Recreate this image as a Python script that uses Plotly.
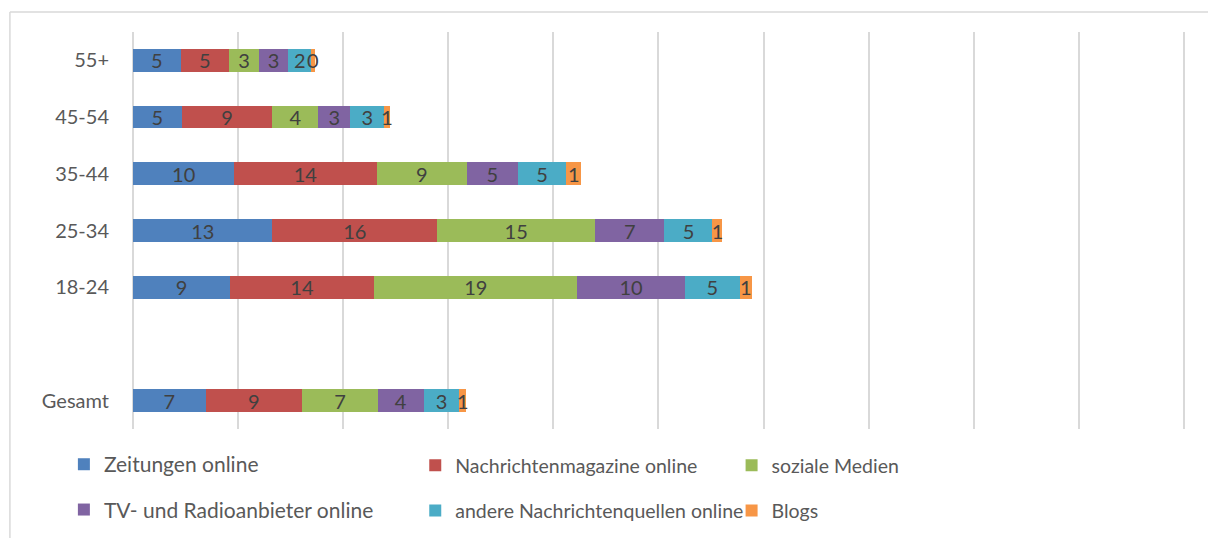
import plotly.graph_objects as go

categories = ["55+", "45-54", "35-44", "25-34", "18-24", " ", "Gesamt"]
series_names = ["Zeitungen online", "Nachrichtenmagazine online", "soziale Medien",
                "TV- und Radioanbieter online", "andere Nachrichtenquellen online", "Blogs"]
zeitungen = [4.52, 4.63, 9.65, 13.27, 9.24, None, 6.92]
nachrichtenmagazine = [4.63, 8.63, 13.52, 15.68, 13.71, None, 9.17]
soziale_medien = [2.83, 4.38, 8.63, 15.02, 19.33, None, 7.21]
tv_radio = [2.79, 3.05, 4.79, 6.60, 10.22, None, 4.35]
andere = [2.19, 3.21, 4.64, 4.57, 5.24, None, 3.40]
blogs = [0.32, 0.55, 1.43, 0.95, 1.14, None, 0.67]

series_values = [zeitungen, nachrichtenmagazine, soziale_medien, tv_radio, andere, blogs]
colors = ["#4F81BD", "#C0504D", "#9BBB59", "#8064A2", "#4BACC6", "#F79646"]
legend_ids = ["legend", "legend2", "legend3", "legend", "legend2", "legend3"]

FONT = "Lato"
fig = go.Figure()
for name, vals, col, lg in zip(series_names, series_values, colors, legend_ids):
    fig.add_trace(go.Bar(
        y=categories, x=vals, name=name, orientation="h",
        marker=dict(color=col, line=dict(width=0)),
        texttemplate="%{x:.0f}", textposition="inside", insidetextanchor="middle",
        textangle=0,
        textfont=dict(family=FONT, size=20, color="#404040"),
        legend=lg, legendgroup=name,
    ))

def legend_cfg(x, y, size, gap):
    return dict(orientation="v", xanchor="left", yanchor="top", x=x, y=y,
                bgcolor="rgba(0,0,0,0)", tracegroupgap=gap,
                font=dict(family=FONT, size=size, color="#595959"))

fig.update_layout(
    width=1208, height=538,
    margin=dict(l=133, r=23, t=32, b=109, autoexpand=False),
    paper_bgcolor="white", plot_bgcolor="white",
    barmode="stack", bargap=0.6,
    uniformtext=dict(minsize=20, mode="show"),
    font=dict(family=FONT, color="#595959"),
    xaxis=dict(range=[0, 100.1], dtick=10, showticklabels=False,
               showgrid=True, gridcolor="#d9d9d9", gridwidth=1.5,
               zeroline=True, zerolinecolor="#d9d9d9", zerolinewidth=1.5,
               showline=False, fixedrange=True),
    yaxis=dict(categoryorder="array", categoryarray=categories, autorange="reversed",
               showgrid=False, zeroline=False, showline=False,
               tickfont=dict(family=FONT, size=20, color="#595959"),
               ticklabelstandoff=23, fixedrange=True),
    legend=legend_cfg(-0.0657, -0.038, 21, 15),
    legend2=legend_cfg(0.2683, -0.043, 19.5, 17),
    legend3=legend_cfg(0.5690, -0.043, 19.5, 17),
    shapes=[
        dict(type="line", xref="paper", yref="paper", x0=-0.117, x1=1.03,
             y0=1.0504, y1=1.0504, line=dict(color="#d9d9d9", width=1.5)),
        dict(type="line", xref="paper", yref="paper", x0=-0.117, x1=-0.117,
             y0=1.0504, y1=-0.3, line=dict(color="#d9d9d9", width=1.5)),
    ],
)

fig.write_html("out.html", config={"displayModeBar": False},
               post_script="document.body.style.margin='0px';")
